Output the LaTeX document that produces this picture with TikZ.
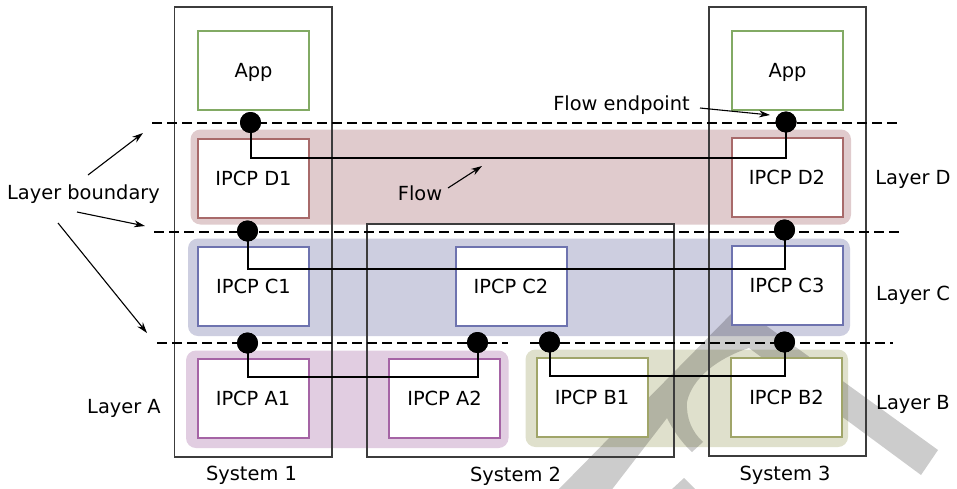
\documentclass[tikz,border=0pt]{standalone}
\usepackage{fontspec}
\setmainfont{DejaVu Sans}
\usetikzlibrary{arrows.meta}
\definecolor{layD}{HTML}{E0CBCD}
\definecolor{layC}{HTML}{CDCEE0}
\definecolor{layA}{HTML}{E1CDE1}
\definecolor{layB}{HTML}{DFE0CC}
\definecolor{bordD}{HTML}{A86A6A}
\definecolor{bordC}{HTML}{6E73AF}
\definecolor{bordA}{HTML}{A564A5}
\definecolor{bordB}{HTML}{A0A569}
\definecolor{bordApp}{HTML}{82AA64}
\definecolor{sysgray}{HTML}{3C3C3C}
\begin{document}
\begin{tikzpicture}[x=1pt,y=-1pt,
  every node/.style={font=\fontsize{19.4}{23}\selectfont, inner sep=0pt, outer sep=0pt},
  txt/.style={anchor=base},
  layer/.style={rounded corners=10pt},
  sysbox/.style={draw=sysgray, line width=1.2pt},
  bnd/.style={line width=2pt, dash pattern=on 10pt off 5pt},
  ipcp/.style={draw=#1, fill=white, line width=2pt, minimum width=111pt, minimum height=79pt, text depth=0pt},
  flowline/.style={line width=2pt},
  epdot/.style={circle, fill=black, minimum size=21pt},
  note/.style={line width=1.1pt, -{Stealth[length=11pt,width=7pt]}},
  wmark/.style={fill=black, fill opacity=0.2}
]
\useasboundingbox (0,0) rectangle (957,488);
\fill[white] (0,0) rectangle (957,488);

% layer regions
\fill[layD, layer] (190.5,129.5) rectangle (851,224.5);
\fill[layC, layer] (188,238.5) rectangle (850,336);
\fill[layA, layer] (186,350.5) rectangle (508.5,448);
\fill[layB, layer] (525.5,349.5) rectangle (848,447);

% watermark fragments
\fill[wmark] (556,492) -- (739,306) -- (938,450) -- (921,475) -- (749,348)
  .. controls (718,358) and (692,378) .. (687,402)
  .. controls (686,418) and (692,432) .. (703,442)
  -- (692,452)
  .. controls (680,441) and (672,428) .. (667,418)
  -- (610,492) -- cycle;
\fill[wmark] (671,490) -- (684,478) -- (696,490) -- cycle;

% systems
\draw[sysbox] (174.5,7) rectangle (332,457);
\draw[sysbox] (367,224) rectangle (674,457);
\draw[sysbox] (709,7) rectangle (866,456);
\node[txt] (sys1) at (251.5,480.5) {System 1};
\node[txt] (sys2) at (515.5,481) {System 2};
\node[txt] (sys3) at (785,480) {System 3};

% layer boundaries
\coordinate (bd1) at (152,123);   \coordinate (bd2) at (900,123);
\coordinate (bc1) at (154,231.5); \coordinate (bc2) at (900,231.5);
\coordinate (ba1) at (157,342.5); \coordinate (ba2) at (508,342.5);
\coordinate (bb1) at (530,342.5); \coordinate (bb2) at (893,342.5);
\draw[bnd] (bd1) -- (bd2);
\draw[bnd] (bc1) -- (bc2);
\draw[bnd] (ba1) -- (ba2);
\draw[bnd] (bb1) -- (bb2);

% boxes
\node[ipcp=bordApp] (appL) at (253.5,70) {App};
\node[ipcp=bordApp] (appR) at (787.5,70) {App};
\node[ipcp=bordD] (D1) at (253.5,178.5) {IPCP D1};
\node[ipcp=bordD] (D2) at (787,177.5) {IPCP D2};
\node[ipcp=bordC] (C1) at (253.5,286) {IPCP C1};
\node[ipcp=bordC] (C2) at (511,286) {IPCP C2};
\node[ipcp=bordC] (C3) at (787,285) {IPCP C3};
\node[ipcp=bordA] (A1) at (253,398.5) {IPCP A1};
\node[ipcp=bordA] (A2) at (444.5,398.5) {IPCP A2};
\node[ipcp=bordB] (B1) at (592,397.5) {IPCP B1};
\node[ipcp=bordB] (B2) at (786.5,397.5) {IPCP B2};

% flow endpoints
\node[epdot] (eD1) at (250.5,122.5) {};
\node[epdot] (eD2) at (786,122) {};
\node[epdot] (eC1) at (247.5,231) {};
\node[epdot] (eC2) at (784.5,230) {};
\node[epdot] (eA1) at (247.5,343) {};
\node[epdot] (eA2) at (477.5,342.5) {};
\node[epdot] (eB1) at (549.5,342) {};
\node[epdot] (eB2) at (784.5,342) {};
\coordinate (yD) at (0,157.5);
\coordinate (yC) at (0,268.5);
\coordinate (yA) at (0,376.5);
\coordinate (yB) at (0,376);

% flows
\draw[flowline] (eD1.center) -- (eD1.center |- yD) -- (eD2.center |- yD) -- (eD2.center);
\draw[flowline] (eC1.center) -- (eC1.center |- yC) -- (eC2.center |- yC) -- (eC2.center);
\draw[flowline] (eA1.center) -- (eA1.center |- yA) -- (eA2.center |- yA) -- (eA2.center);
\draw[flowline] (eB1.center) -- (eB1.center |- yB) -- (eB2.center |- yB) -- (eB2.center);
\foreach \n in {eD1,eD2,eC1,eC2,eA1,eA2,eB1,eB2} \fill (\n) circle (10.5pt);

% layer labels
\node[txt] (labD) at (913,184) {Layer D};
\node[txt] (labC) at (913,300) {Layer C};
\node[txt] (labB) at (913,409) {Layer B};
\node[txt] (labA) at (124,413) {Layer A};

% annotations
\node[txt] (lb) at (83.5,199) {Layer boundary};
\node[txt] (fl) at (420,200) {Flow};
\node[txt] (fe) at (621.5,110.5) {Flow endpoint};
\coordinate (lbs1) at (88,175);  \coordinate (lbe1) at (143,133);
\coordinate (lbs2) at (77,212);  \coordinate (lbe2) at (145,226);
\coordinate (lbs3) at (58,223);  \coordinate (lbe3) at (147,333);
\coordinate (fls) at (448,188);  \coordinate (fle) at (482,166);
\coordinate (fes) at (700,108);  \coordinate (fee) at (770,115);
\draw[note] (lbs1) -- (lbe1);
\draw[note] (lbs2) -- (lbe2);
\draw[note] (lbs3) -- (lbe3);
\draw[note] (fls) -- (fle);
\draw[note] (fes) -- (fee);
\end{tikzpicture}
\end{document}
